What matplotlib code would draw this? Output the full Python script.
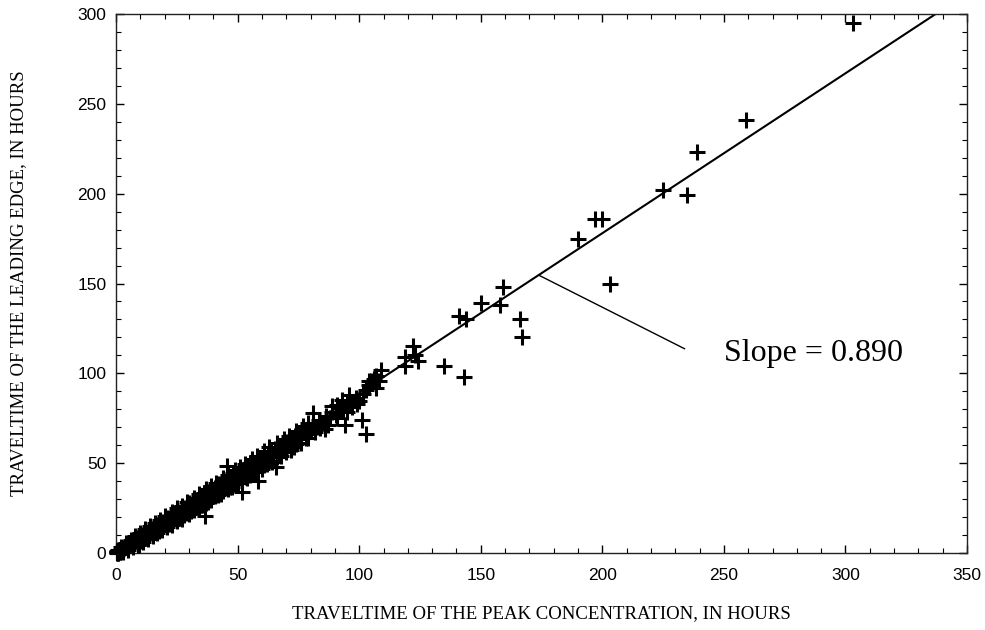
import matplotlib
matplotlib.use("Agg")
import matplotlib.pyplot as plt
from matplotlib.ticker import MultipleLocator

# traveltime of the peak concentration (hours) vs. leading edge (hours)
peak_hours = [
    0.5, 0.8, 1.0, 1.2, 1.5, 1.7, 2.0, 2.2, 2.5, 2.8, 3.0, 3.3, 3.5, 3.8, 4.0, 4.2,
    4.5, 4.8, 5.0, 5.3, 5.5, 5.8, 6.0, 6.3, 6.5, 6.8, 7.0, 7.4, 7.7, 8.0, 8.3, 8.6,
    9.0, 9.3, 9.6, 10.0, 1.5, 3.0, 5.0, 7.5,
    10.4, 10.8, 11.2, 11.5, 12.0, 12.3, 12.7, 13.1, 13.5, 13.9, 14.2, 14.6, 15.0,
    15.4, 15.8, 16.2, 16.6, 17.0, 17.4, 17.8, 18.2, 18.6, 19.0, 19.5, 20.0,
    12.0, 15.5, 18.0,
    20.5, 21.0, 21.5, 22.0, 22.6, 23.0, 23.5, 24.0, 24.6, 25.2, 25.8, 26.3, 27.0,
    27.5, 28.1, 28.7, 29.3, 30.0, 30.6, 31.2, 31.8, 32.5, 33.1, 33.8, 34.4, 35.0,
    35.7, 36.3, 37.0, 37.6, 38.3, 39.0, 39.6, 40.0,
    22.0, 26.0, 29.0, 31.0, 33.0, 35.0, 38.0, 24.0, 30.0, 36.0, 36.6,
    40.5, 41.2, 41.8, 42.5, 43.1, 43.8, 44.4, 45.0, 45.7, 46.3, 47.0, 47.6, 48.3,
    49.0, 49.6, 50.3, 51.0, 51.7, 52.4, 53.0, 53.7, 54.4, 55.1, 55.8, 56.5, 57.2,
    57.9, 58.6, 59.3, 60.0,
    43.0, 47.0, 50.0, 54.0, 57.0, 60.0, 42.0, 48.0, 55.0, 45.5, 52.0, 58.5, 65.7,
    60.8, 61.5, 62.3, 63.0, 63.8, 64.6, 65.3, 66.1, 66.9, 67.7, 68.5, 69.3, 70.1,
    71.0, 71.8, 72.7, 73.5, 74.4, 75.3, 76.2, 77.1, 78.0, 79.0, 80.0,
    64.0, 68.0, 72.0, 76.0, 79.0,
    81.0, 82.5, 83.5, 85.0, 86.5, 88.0, 89.0, 90.5, 92.0, 93.5, 95.0, 97.0, 98.5,
    100.0, 101.5, 103.0, 104.0, 105.0, 106.0, 107.0, 108.0,
    81.0, 91.0, 96.0, 86.0, 94.0, 101.0, 103.0, 89.0, 93.0, 99.0, 104.0, 107.0, 109.0,
    119.0, 122.0, 123.0, 124.0, 119.0, 135.0, 143.0, 141.0, 144.0, 150.0, 158.0,
    159.0, 166.0, 167.0, 190.0, 197.0, 200.0, 203.0, 225.0, 235.0, 239.0, 259.0,
    303.0,
    # upper edge of the band
    2.0, 4.0, 6.0, 8.0, 10.0, 12.0, 14.0, 16.0, 18.0, 20.0, 23.0, 25.0, 27.0, 29.0,
    32.0, 34.0, 37.0, 39.0, 41.0, 44.0, 46.0, 49.0, 51.0, 53.0, 56.0, 58.0, 61.0,
    63.0, 66.0, 69.0, 71.0, 74.0, 77.0, 79.0,
    # lower edge of the band
    3.0, 5.0, 7.0, 9.0, 11.0, 13.0, 15.0, 17.0, 19.0, 21.0, 23.0, 25.0, 27.0, 30.0,
    32.0, 34.0, 37.0, 39.0, 42.0, 44.0, 46.0, 49.0, 52.0, 55.0, 58.0, 62.0, 66.0,
    70.0, 74.0, 78.0, 82.0, 87.0, 91.0, 95.0,
    28.0, 35.5, 40.5, 47.5, 53.5, 61.0, 67.5, 73.0, 84.0, 17.5, 10.5,
    # short runs near the origin
    0.3, 0.7, 1.0, 1.8, 2.5, 0.2, 1.0, 0.5,
]
leading_hours = [
    0.4, 0.7, 0.9, 1.0, 1.3, 1.4, 1.8, 1.9, 2.1, 2.5, 2.6, 2.8, 3.2, 3.3, 3.4, 3.8,
    3.9, 4.3, 4.2, 4.8, 4.6, 5.2, 5.1, 5.7, 5.5, 5.9, 6.2, 6.3, 7.0, 6.8, 7.4, 7.2,
    8.1, 7.9, 8.5, 8.6, 0.8, 1.9, 3.6, 5.6,
    9.3, 9.0, 10.1, 9.6, 10.7, 10.2, 11.4, 11.0, 12.0, 11.6, 12.8, 12.3, 13.4,
    12.6, 14.1, 13.5, 14.8, 14.3, 15.6, 14.9, 16.3, 15.4, 17.0, 16.2, 17.6,
    8.5, 11.5, 13.5,
    18.4, 17.5, 19.3, 18.6, 20.2, 19.0, 21.0, 20.3, 22.0, 21.2, 23.1, 22.0, 24.1,
    22.8, 25.0, 24.0, 26.1, 25.3, 27.2, 26.0, 28.3, 27.1, 29.4, 28.0, 30.6, 29.5,
    31.8, 30.1, 32.9, 31.5, 34.0, 32.6, 35.2, 33.8,
    16.0, 19.5, 22.0, 23.5, 25.5, 26.5, 28.5, 22.5, 28.0, 33.5, 20.5,
    36.2, 35.0, 37.3, 36.0, 38.4, 37.1, 39.6, 38.0, 40.7, 39.2, 41.9, 40.5, 43.0,
    41.6, 44.1, 42.7, 45.2, 43.5, 46.4, 44.9, 47.6, 45.8, 48.8, 47.0, 50.0, 48.2,
    51.2, 49.5, 52.5, 51.0,
    33.0, 36.5, 39.0, 42.0, 45.0, 46.5, 38.5, 44.5, 50.0, 48.5, 34.2, 40.3, 47.8,
    53.6, 52.1, 55.0, 53.4, 56.4, 54.7, 57.8, 56.0, 59.2, 57.3, 60.6, 58.7, 62.0,
    60.2, 63.6, 61.8, 65.0, 63.2, 66.5, 64.5, 68.0, 66.2, 69.6, 68.0,
    50.5, 54.0, 57.5, 61.0, 64.0,
    71.5, 70.0, 73.8, 72.5, 76.2, 75.0, 78.5, 77.0, 80.8, 79.5, 83.0, 81.5, 86.5,
    84.5, 88.5, 90.5, 93.5, 95.5, 97.0, 98.5, 96.0,
    78.0, 82.5, 88.0, 69.0, 71.0, 74.0, 66.0, 82.0, 85.0, 83.0, 95.5, 92.0, 102.0,
    109.0, 115.0, 110.0, 107.0, 104.0, 104.0, 98.0, 132.0, 130.0, 139.0, 138.0,
    148.0, 130.0, 120.0, 175.0, 186.0, 186.0, 150.0, 202.0, 199.0, 223.0, 241.0,
    295.0,
    3.5, 5.6, 7.2, 9.6, 11.0, 13.2, 14.9, 16.8, 18.5, 20.4, 22.8, 24.9, 26.3, 28.5,
    30.6, 32.8, 35.4, 37.5, 39.0, 41.6, 43.2, 46.0, 47.9, 49.6, 52.3, 54.0, 56.6,
    58.9, 61.0, 63.6, 65.4, 68.0, 70.9, 72.5,
    0.5, 1.8, 3.2, 4.6, 6.4, 8.0, 9.5, 11.4, 12.6, 14.5, 15.8, 17.6, 19.0, 21.8,
    23.8, 25.1, 27.8, 29.5, 32.1, 34.4, 35.5, 38.2, 40.8, 43.6, 46.2, 49.8, 53.5,
    56.4, 60.5, 63.8, 67.2, 71.0, 75.2, 78.4,
    21.0, 27.0, 31.5, 37.0, 42.5, 49.0, 54.5, 59.0, 69.5, 12.0, 6.5,
    0.0, 0.2, 0.0, 0.5, 1.0, 0.3, 1.5, 1.2,
]

slope = 0.890
fit_x = [0.0, 350.0]
fit_y = [slope * v for v in fit_x]

fig = plt.figure(figsize=(9.85, 6.3), dpi=100)
ax = fig.add_axes([0.1178, 0.1222, 0.8640, 0.8556])

ax.plot(peak_hours, leading_hours, linestyle="none", marker="+",
        markersize=11, markeredgewidth=2.2, color="black", clip_on=False, zorder=3)
ax.plot(fit_x, fit_y, color="black", linewidth=1.5, zorder=2)

# leader from the fitted line to the label
ax.plot([173.8, 233.8], [slope * 173.8, 113.7], color="black", linewidth=1.0)
ax.text(250.0, 111.0, "Slope = 0.890", fontsize=23, family="Liberation Serif",
        va="center", ha="left")

ax.set_xlim(0, 350)
ax.set_ylim(0, 300)
ax.xaxis.set_major_locator(MultipleLocator(50))
ax.xaxis.set_minor_locator(MultipleLocator(10))
ax.yaxis.set_major_locator(MultipleLocator(50))
ax.yaxis.set_minor_locator(MultipleLocator(10))
ax.tick_params(which="both", direction="in", top=True, right=True, labelsize=12.5)
ax.tick_params(axis="x", which="both", pad=11)
ax.tick_params(axis="y", which="both", pad=7)
ax.tick_params(which="major", length=6, width=1.0)
ax.tick_params(which="minor", length=3.6, width=0.8)
for lab in ax.get_xticklabels() + ax.get_yticklabels():
    lab.set_family("Liberation Sans")
for sp in ax.spines.values():
    sp.set_linewidth(1.0)
    sp.set_color("#222222")

ax.set_xlabel("TRAVELTIME OF THE PEAK CONCENTRATION, IN HOURS",
              family="Liberation Serif", fontsize=13.5, labelpad=16)
ax.set_ylabel("TRAVELTIME OF THE LEADING EDGE, IN HOURS",
              family="Liberation Serif", fontsize=13.5, labelpad=36)

fig.savefig("out.png", dpi=100)
